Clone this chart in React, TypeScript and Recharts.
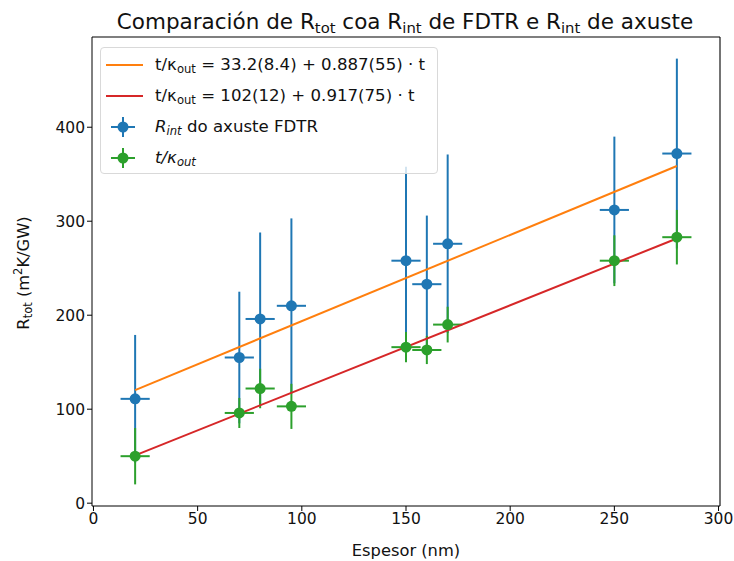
// Comparación de R_tot: puntos con barras de erro (x e y) e rectas de axuste.
import {
  ComposedChart, Scatter, ErrorBar, XAxis, YAxis, ReferenceLine,
} from "recharts";

const FONT = "DejaVu Sans, Liberation Sans, sans-serif";
const BLUE = "#1f77b4";
const ORANGE = "#ff7f0e";
const GREEN = "#2ca02c";
const RED = "#d62728";

// Espesores (nm) e incerteza en x
const thickness = [20, 70, 80, 95, 150, 160, 170, 250, 280];
const thicknessErr = [7, 7, 7, 7, 7, 7, 7, 7, 7];
// R_int do axuste FDTR
const rInt = [111, 155, 196, 210, 258, 233, 276, 312, 372];
const rIntErr = [68, 70, 92, 93, 100, 73, 95, 78, 101];
// t / kappa_out
const tKappa = [50, 96, 122, 103, 166, 163, 190, 258, 283];
const tKappaErr = [30, 16, 21, 24, 16, 15, 19, 27, 29];

// Extremos das rectas de axuste
const orangeFit = [{ x: 20, y: 120.3 }, { x: 280, y: 358.8 }];
const redFit = [{ x: 20, y: 50.9 }, { x: 280, y: 281.6 }];

const X_DOMAIN = [-0.7, 300.7];
const Y_DOMAIN = [-3, 496];
const xTicks = [0, 50, 100, 150, 200, 250, 300];
const yTicks = [0, 100, 200, 300, 400];

const blueData = thickness.map((x, i) => ({ x, y: rInt[i], ex: thicknessErr[i], ey: rIntErr[i] }));
const greenData = thickness.map((x, i) => ({ x, y: tKappa[i], ex: thicknessErr[i], ey: tKappaErr[i] }));

const TICK = { fontSize: 15.5, fill: "#111", fontFamily: FONT } as const;

const dot = (color: string) => (p: any) => <circle cx={p.cx} cy={p.cy} r={5.5} fill={color} />;
const none = () => <g />;

function Sub({ children }: { children: React.ReactNode }) {
  return <sub style={{ fontSize: "0.7em", verticalAlign: "-0.3em", lineHeight: 0 }}>{children}</sub>;
}

// Lenda ao estilo matplotlib (caixa semitransparente, canto superior esquerdo)
function LegendBox() {
  const rowStyle: React.CSSProperties = { display: "flex", alignItems: "center", height: 31 };
  const txt: React.CSSProperties = { fontSize: 16.6, color: "#111", fontFamily: FONT, whiteSpace: "nowrap", marginLeft: 10 };
  const mark = (c: string) => (
    <svg width={44} height={30}>
      <line x1={10} x2={34} y1={15} y2={15} stroke={c} strokeWidth={2} />
      <line x1={22} x2={22} y1={5} y2={25} stroke={c} strokeWidth={2} />
      <circle cx={22} cy={15} r={5.5} fill={c} />
    </svg>
  );
  const ln = (c: string) => (
    <svg width={44} height={30}>
      <line x1={5} x2={42} y1={15} y2={15} stroke={c} strokeWidth={2} />
    </svg>
  );
  return (
    <div style={{
      position: "absolute", left: 100, top: 47, width: 338, height: 127, boxSizing: "border-box",
      background: "rgba(255,255,255,0.8)", border: "1px solid #d9d9d9", borderRadius: 4, paddingTop: 1,
    }}>
      <div style={rowStyle}>{ln(ORANGE)}<span style={txt}>t/κ<Sub>out</Sub> = 33.2(8.4) + 0.887(55) · t</span></div>
      <div style={rowStyle}>{ln(RED)}<span style={txt}>t/κ<Sub>out</Sub> = 102(12) + 0.917(75) · t</span></div>
      <div style={rowStyle}>{mark(BLUE)}<span style={txt}><i>R<Sub>int</Sub></i> do axuste FDTR</span></div>
      <div style={rowStyle}>{mark(GREEN)}<span style={txt}><i>t/κ<Sub>out</Sub></i></span></div>
    </div>
  );
}

function YLabel() {
  return (
    <text transform="translate(29,273) rotate(-90)" textAnchor="middle" fontSize={16.3} fontFamily={FONT} fill="#111">
      R<tspan fontSize={11.5} dy={3}>tot</tspan>
      <tspan dy={-3}> (m</tspan><tspan fontSize={11.5} dy={-7}>2</tspan><tspan dy={7}>K/GW)</tspan>
    </text>
  );
}

function XLabel() {
  return (
    <text x={406} y={556} textAnchor="middle" fontSize={16.3} fontFamily={FONT} fill="#111">Espesor (nm)</text>
  );
}

export default function App() {
  return (
    <div style={{ position: "relative", width: 734, height: 561, background: "#fff", fontFamily: FONT }}>
      <style>{"body{margin:0}"}</style>
      <svg width={734} height={36} style={{ position: "absolute", left: 0, top: 0 }}>
        <text x={405} y={29} textAnchor="middle" fontSize={21.5} fontFamily={FONT} fill="#111">
          Comparación de R<tspan fontSize={14.8} dy={4}>tot</tspan>
          <tspan dy={-4}> coa R</tspan><tspan fontSize={14.8} dy={4}>int</tspan>
          <tspan dy={-4}> de FDTR e R</tspan><tspan fontSize={14.8} dy={4}>int</tspan>
          <tspan dy={-4}> de axuste</tspan>
        </text>
      </svg>
      <ComposedChart width={734} height={561} margin={{ top: 37, right: 14, bottom: 24, left: 0 }}>
        <XAxis xAxisId="b" type="number" dataKey="x" domain={X_DOMAIN} ticks={xTicks} allowDataOverflow
          tick={TICK} tickSize={5} stroke="#000" height={31} label={<XLabel />} />
        <YAxis yAxisId="l" type="number" dataKey="y" domain={Y_DOMAIN} ticks={yTicks} allowDataOverflow
          tick={TICK} tickSize={5} stroke="#000" width={92} label={<YLabel />} />
        {/* marco superior e dereito */}
        <ReferenceLine xAxisId="b" yAxisId="l" y={Y_DOMAIN[1]} stroke="#000" strokeWidth={1.1} />
        <ReferenceLine xAxisId="b" yAxisId="l" x={X_DOMAIN[1]} stroke="#000" strokeWidth={1.1} />

        <Scatter xAxisId="b" yAxisId="l" data={orangeFit} shape={none} line={{ stroke: ORANGE, strokeWidth: 2 }} isAnimationActive={false} />
        <Scatter xAxisId="b" yAxisId="l" data={redFit} shape={none} line={{ stroke: RED, strokeWidth: 2 }} isAnimationActive={false} />

        <Scatter xAxisId="b" yAxisId="l" data={blueData} shape={dot(BLUE)} isAnimationActive={false}>
          <ErrorBar dataKey="ey" direction="y" width={0} stroke={BLUE} strokeWidth={2} isAnimationActive={false} />
          <ErrorBar dataKey="ex" direction="x" width={0} stroke={BLUE} strokeWidth={2} isAnimationActive={false} />
        </Scatter>
        <Scatter xAxisId="b" yAxisId="l" data={greenData} shape={dot(GREEN)} isAnimationActive={false}>
          <ErrorBar dataKey="ey" direction="y" width={0} stroke={GREEN} strokeWidth={2} isAnimationActive={false} />
          <ErrorBar dataKey="ex" direction="x" width={0} stroke={GREEN} strokeWidth={2} isAnimationActive={false} />
        </Scatter>
      </ComposedChart>
      <LegendBox />
    </div>
  );
}
